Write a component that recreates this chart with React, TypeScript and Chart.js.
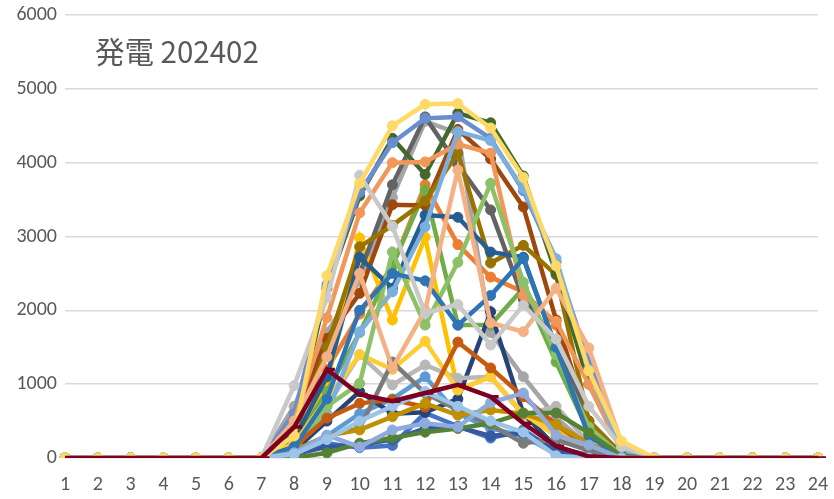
import React, { useEffect, useRef } from "react";
import { Chart, registerables } from "chart.js";
Chart.register(...registerables);

const hours = ["1","2","3","4","5","6","7","8","9","10","11","12","13","14","15","16","17","18","19","20","21","22","23","24"];

const yTicks = [0, 1000, 2000, 3000, 4000, 5000, 6000];

const d01 = [0,0,0,0,0,0,0,50,200,140,170,610,430,270,380,90,20,0,0,0,0,0,0,0];
const d02 = [0,0,0,0,0,0,0,150,1200,1950,2600,3700,2890,2450,2250,1800,500,50,0,0,0,0,0,0];
const d03 = [0,0,0,0,0,0,0,700,1700,2400,3530,4560,4400,1700,1100,550,150,0,0,0,0,0,0,0];
const d04 = [0,0,0,0,0,0,0,300,1000,2980,1870,2990,920,1100,600,400,100,0,0,0,0,0,0,0];
const d05 = [0,0,0,0,0,0,0,80,300,600,800,1100,600,400,300,50,0,0,0,0,0,0,0,0];
const d06 = [0,0,0,0,0,0,0,200,900,1700,2600,3630,1800,1800,2300,1300,350,30,0,0,0,0,0,0];
const d07 = [0,0,0,0,0,0,0,100,500,900,600,620,800,1980,600,150,30,0,0,0,0,0,0,0];
const d08 = [0,0,0,0,0,0,0,500,1620,2230,3430,3420,4450,4050,3400,1870,500,50,0,0,0,0,0,0];
const d09 = [0,0,0,0,0,0,0,400,1400,2500,3700,4620,3970,3360,2150,1600,500,50,0,0,0,0,0,0];
const d10 = [0,0,0,0,0,0,0,300,1500,2860,3150,3480,4130,2640,2880,2480,500,50,0,0,0,0,0,0];
const d11 = [0,0,0,0,0,0,0,250,1100,2720,2300,3290,3260,2790,2720,1490,300,20,0,0,0,0,0,0];
const d12 = [0,0,0,0,0,0,0,400,2300,3550,4330,3840,4670,4540,3820,2500,1000,100,0,0,0,0,0,0];
const d13 = [0,0,0,0,0,0,0,600,2350,3600,4270,4600,4620,4330,3620,2650,1300,200,0,0,0,0,0,0];
const d14 = [0,0,0,0,0,0,0,500,1900,3320,4000,4010,4250,4130,2200,1850,1000,100,0,0,0,0,0,0];
const d15 = [0,0,0,0,0,0,0,200,700,1400,990,1260,1080,1100,580,700,200,0,0,0,0,0,0,0];
const d16 = [0,0,0,0,0,0,0,200,800,1400,1200,1580,920,1100,600,300,100,0,0,0,0,0,0,0];
const d17 = [0,0,0,0,0,0,0,150,600,1710,2250,3130,4420,4300,3650,2700,1200,100,0,0,0,0,0,0];
const d18 = [0,0,0,0,0,0,0,100,700,1010,2790,1800,2650,3720,2380,1400,420,30,0,0,0,0,0,0];
const d19 = [0,0,0,0,0,0,0,50,150,180,250,400,420,300,330,100,0,0,0,0,0,0,0,0];
const d20 = [0,0,0,0,0,0,0,150,540,740,790,690,1570,1220,830,450,150,0,0,0,0,0,0,0];
const d21 = [0,0,0,0,0,0,0,100,300,400,1300,880,650,450,200,250,100,0,0,0,0,0,0,0];
const d22 = [0,0,0,0,0,0,0,100,300,380,560,740,580,650,600,450,200,0,0,0,0,0,0,0];
const d23 = [0,0,0,0,0,0,0,150,800,2000,2500,2400,1800,2200,2700,1500,300,0,0,0,0,0,0,0];
const d24 = [0,0,0,0,0,0,0,0,70,200,270,350,400,470,610,610,340,30,0,0,0,0,0,0];
const d25 = [0,0,0,0,0,0,0,70,310,150,380,470,420,750,880,310,175,0,0,0,0,0,0,0];
const d26 = [0,0,0,0,0,0,0,500,1370,2500,1220,2000,3900,1830,1710,2300,1490,200,0,0,0,0,0,0];
const d27 = [0,0,0,0,0,0,0,980,2170,3830,3140,1960,2080,1530,2070,1610,700,150,0,0,0,0,0,0];
const d28 = [0,0,0,0,0,0,0,300,2470,3720,4500,4790,4800,4470,3800,2600,1180,230,0,0,0,0,0,0];
const d29 = [0,0,0,0,0,0,0,50,250,500,700,900,700,500,350,30,0,0,0,0,0,0,0,0];
const highlight = [0,0,0,0,0,0,0,420,1200,860,770,880,990,830,470,160,20,0,0,0,0,0,0,0];

const days = [d01,d02,d03,d04,d05,d06,d07,d08,d09,d10,d11,d12,d13,d14,d15,d16,d17,d18,d19,d20,d21,d22,d23,d24,d25,d26,d27,d28,d29];
const dayColors = [
  "#4472C4","#ED7D31","#A5A5A5","#FFC000","#5B9BD5","#70AD47",
  "#264478","#9E480E","#636363","#997300","#255E91","#43682B",
  "#698ED0","#F1975A","#B7B7B7","#FFCD33","#7CAFDD","#8CC168",
  "#335AA1","#C55A11","#7B7B7B","#BF9000","#2E75B6","#548235",
  "#8FAADC","#F4B183","#C9C9C9","#FFD966","#9DC3E6"
];
const highlightColor = "#7D0023";

const FONT = "Carlito, 'Liberation Sans Narrow', 'DejaVu Sans Condensed', 'Liberation Sans', sans-serif";

export default function App() {
  const ref = useRef<HTMLCanvasElement>(null);
  useEffect(() => {
    document.body.style.margin = "0";
    const datasets: any[] = days.map((d, i) => ({
      label: String(i + 1),
      data: d,
      borderColor: dayColors[i],
      backgroundColor: dayColors[i],
      borderWidth: 4.5,
      pointRadius: 5,
      pointBorderWidth: 1,
      pointHoverRadius: 5,
      tension: 0,
      order: i === 27 ? 1 : 31 - i,
    }));
    datasets.unshift({
      label: "highlight",
      data: highlight,
      borderColor: highlightColor,
      backgroundColor: highlightColor,
      borderWidth: 4.5,
      pointStyle: "dash",
      pointRadius: 8,
      pointBorderWidth: 3.5,
      tension: 0,
      order: 0,
    });
    const chart = new Chart(ref.current!, {
      type: "line",
      data: { labels: hours, datasets },
      options: {
        animation: false,
        responsive: false,
        devicePixelRatio: 1,
        layout: { padding: { top: 15, right: 16, bottom: 0, left: 0 } },
        plugins: { legend: { display: false }, title: { display: false }, tooltip: { enabled: false } },
        scales: {
          x: {
            type: "category",
            offset: false,
            grid: { display: false },
            border: { display: false },
            ticks: { color: "#595959", font: { family: FONT, size: 20 }, maxRotation: 0, autoSkip: false, padding: 7 },
            afterFit: (s: any) => { s.height = 41; s.paddingLeft = 0; s.paddingRight = 0; },
          },
          y: {
            min: 0,
            max: 6000,
            afterBuildTicks: (s: any) => { s.ticks = yTicks.map((v) => ({ value: v })); },
            ticks: { color: "#595959", font: { family: FONT, size: 20 }, padding: 8, callback: (v: any) => String(v) },
            grid: { color: "#D9D9D9", lineWidth: 1.5, drawTicks: false },
            border: { display: false },
            afterFit: (s: any) => { s.width = 65; s.paddingTop = 0; s.paddingBottom = 0; },
          },
        },
      },
    });
    return () => chart.destroy();
  }, []);
  return (
    <div style={{ position: "relative", width: 834, height: 499, background: "#fff" }}>
      <canvas ref={ref} width={834} height={499} style={{ display: "block" }} />
      <div
        style={{
          position: "absolute",
          left: 95,
          top: 31,
          fontFamily: "'Noto Sans CJK JP', 'Noto Sans', sans-serif",
          fontSize: 29.5,
          lineHeight: "38px",
          color: "#595959",
          whiteSpace: "nowrap",
        }}
      >
        発電 202402
      </div>
    </div>
  );
}
